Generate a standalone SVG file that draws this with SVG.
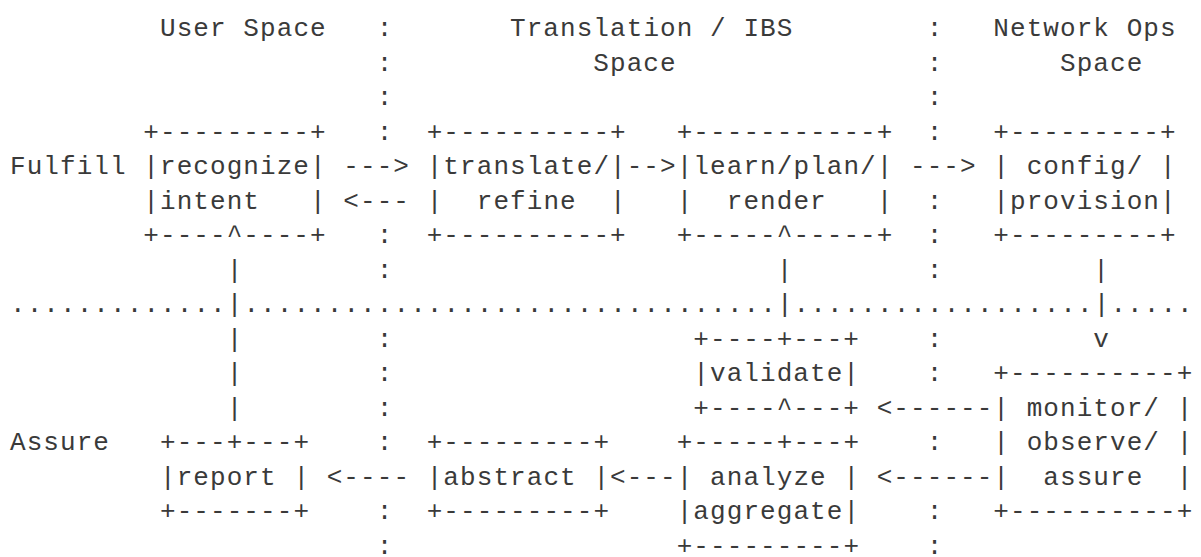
<svg xmlns="http://www.w3.org/2000/svg" width="1201" height="557" viewBox="0 0 1201 557" xml:space="preserve">
<style>
text { font-family: "Liberation Mono", "DejaVu Sans Mono", monospace; font-size: 26px; letter-spacing: 1.07px; fill: #3a3a3a; white-space: pre; }
</style>
<rect width="1201" height="557" fill="#ffffff"/>
<g id="labels">
<text x="160" y="36">User Space</text>
<text x="510" y="36">Translation / IBS</text>
<text x="993.3" y="36">Network Ops</text>
<text x="593.3" y="70.5">Space</text>
<text x="1060" y="70.5">Space</text>
<text x="10" y="174">Fulfill</text>
<text x="10" y="450">Assure</text>
</g>
<g id="lanes">
<text><tspan x="376.7" y="36">:</tspan><tspan x="376.7" y="70.5">:</tspan><tspan x="376.7" y="105">:</tspan><tspan x="376.7" y="139.5">:</tspan><tspan x="376.7" y="243">:</tspan><tspan x="376.7" y="277.5">:</tspan><tspan x="376.7" y="346.5">:</tspan><tspan x="376.7" y="381">:</tspan><tspan x="376.7" y="415.5">:</tspan><tspan x="376.7" y="450">:</tspan><tspan x="376.7" y="519">:</tspan><tspan x="376.7" y="553.5">:</tspan></text>
<text><tspan x="926.7" y="36">:</tspan><tspan x="926.7" y="70.5">:</tspan><tspan x="926.7" y="105">:</tspan><tspan x="926.7" y="139.5">:</tspan><tspan x="926.7" y="208.5">:</tspan><tspan x="926.7" y="243">:</tspan><tspan x="926.7" y="277.5">:</tspan><tspan x="926.7" y="346.5">:</tspan><tspan x="926.7" y="381">:</tspan><tspan x="926.7" y="450">:</tspan><tspan x="926.7" y="519">:</tspan><tspan x="926.7" y="553.5">:</tspan></text>
</g>
<g id="recognize-intent">
<text x="143.3" y="139.5">+---------+</text>
<text x="143.3" y="174">|recognize|</text>
<text x="143.3" y="208.5">|intent   |</text>
<text x="143.3" y="243">+----^----+</text>
</g>
<g id="translate-refine">
<text x="426.7" y="139.5">+----------+</text>
<text x="426.7" y="174">|translate/|</text>
<text x="426.7" y="208.5">|  refine  |</text>
<text x="426.7" y="243">+----------+</text>
</g>
<g id="learn-plan-render">
<text x="676.7" y="139.5">+-----------+</text>
<text x="676.7" y="174">|learn/plan/|</text>
<text x="676.7" y="208.5">|  render   |</text>
<text x="676.7" y="243">+-----^-----+</text>
</g>
<g id="config-provision">
<text x="993.3" y="139.5">+---------+</text>
<text x="993.3" y="174">| config/ |</text>
<text x="993.3" y="208.5">|provision|</text>
<text x="993.3" y="243">+---------+</text>
</g>
<g id="validate">
<text x="693.3" y="346.5">+----+---+</text>
<text x="693.3" y="381">|validate|</text>
<text x="693.3" y="415.5">+----^---+</text>
</g>
<g id="monitor-observe-assure">
<text x="993.3" y="381">+----------+</text>
<text x="993.3" y="415.5">| monitor/ |</text>
<text x="993.3" y="450">| observe/ |</text>
<text x="993.3" y="484.5">|  assure  |</text>
<text x="993.3" y="519">+----------+</text>
</g>
<g id="report">
<text x="160" y="450">+---+---+</text>
<text x="160" y="484.5">|report |</text>
<text x="160" y="519">+-------+</text>
</g>
<g id="abstract">
<text x="426.7" y="450">+---------+</text>
<text x="426.7" y="484.5">|abstract |</text>
<text x="426.7" y="519">+---------+</text>
</g>
<g id="analyze-aggregate">
<text x="676.7" y="450">+-----+---+</text>
<text x="676.7" y="484.5">| analyze |</text>
<text x="676.7" y="519">|aggregate|</text>
<text x="676.7" y="553.5">+---------+</text>
</g>
<g id="connectors">
<text x="343.3" y="174">---&gt;</text>
<text x="626.7" y="174">--&gt;</text>
<text x="910" y="174">---&gt;</text>
<text x="343.3" y="208.5">&lt;---</text>
<text x="226.7" y="277.5">|</text>
<text x="776.7" y="277.5">|</text>
<text x="1093.3" y="277.5">|</text>
<text x="10" y="312">.............|................................|..................|.....</text>
<text x="226.7" y="346.5">|</text>
<text x="1093.3" y="346.5">v</text>
<text x="226.7" y="381">|</text>
<text x="226.7" y="415.5">|</text>
<text x="876.7" y="415.5">&lt;------</text>
<text x="326.7" y="484.5">&lt;----</text>
<text x="610" y="484.5">&lt;---</text>
<text x="876.7" y="484.5">&lt;------</text>
</g>
</svg>
